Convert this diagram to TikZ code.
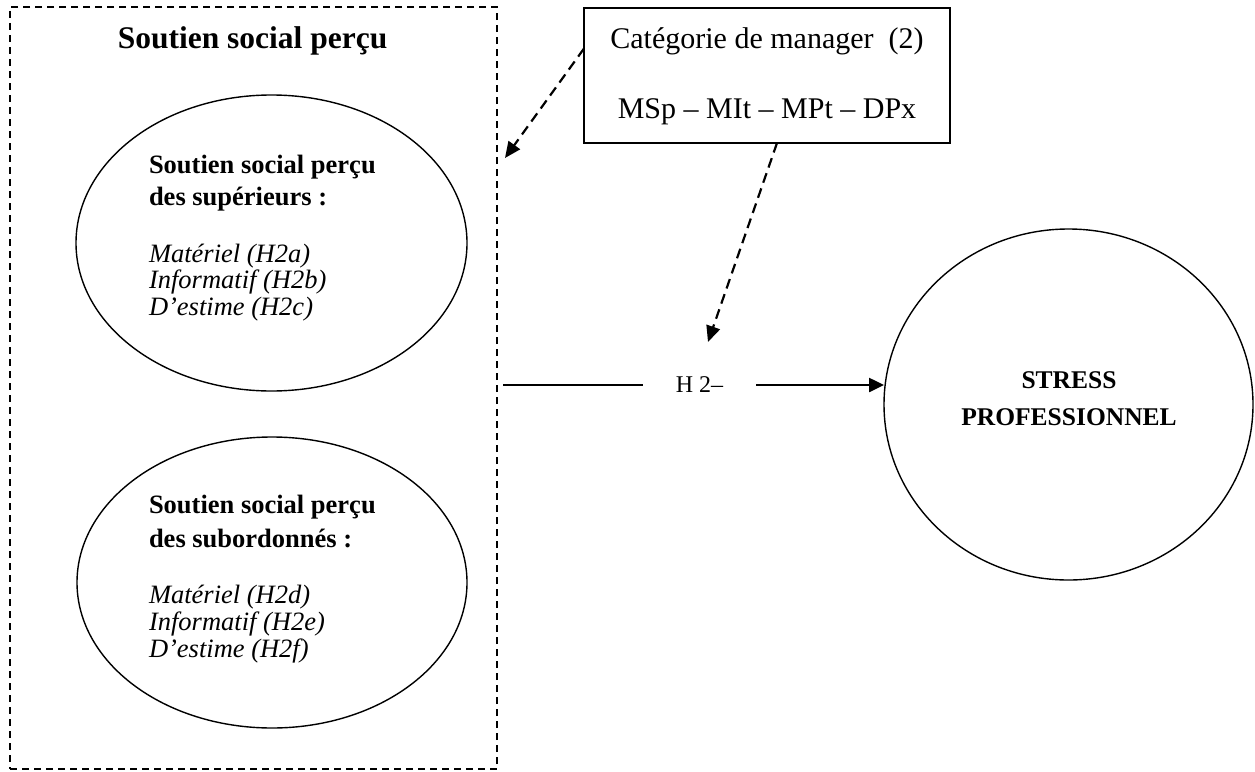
\documentclass[tikz,border=0pt]{standalone}
\usepackage{fontspec}
\setmainfont{Liberation Serif}
\usetikzlibrary{arrows.meta,shapes.geometric,calc}
\newcommand\setfs[1]{\fontsize{#1}{#1}\selectfont}
\begin{document}
\begin{tikzpicture}[x=1pt,y=-1pt,
  every node/.style={inner sep=0pt,outer sep=0pt},
  groupbox/.style={draw,line width=1.4pt,dash pattern=on 7pt off 5pt},
  oval/.style={draw,ellipse,line width=1.4pt},
  catbox/.style={draw,line width=1.6pt},
  line/.style={anchor=base west},
  hd/.style={line,font=\setfs{26.5}\bfseries},
  it/.style={line,font=\setfs{26.5}\itshape},
  modlink/.style={line width=2.2pt,dash pattern=on 10pt off 6pt,
    -{Triangle[length=16pt,width=14pt]}},
  mainlink/.style={line width=2.5pt},
  mainarrow/.style={mainlink,-{Triangle[length=15pt,width=14pt]}}]
\useasboundingbox (0,0) rectangle (1255,771);

% perceived social support group
\node[groupbox,minimum width=487,minimum height=762] (grp) at (253.5,388) {};
\node[anchor=base,font=\setfs{31.5}\bfseries] (title) at (252.5,48) {Soutien social perçu};

% support from superiors
\node[oval,minimum width=391,minimum height=296] (sup) at (271.5,243) {};
\node[hd] (sup1) at (149,173) {Soutien social perçu};
\node[hd] (sup2) at (149,205) {des supérieurs :};
\node[it] (sup3) at (149,262) {Matériel (H2a)};
\node[it] (sup4) at (149,288.5) {Informatif (H2b)};
\node[it] (sup5) at (149,315) {D’estime (H2c)};

% support from subordinates
\node[oval,minimum width=390,minimum height=291] (sub) at (272,582.5) {};
\node[hd] (sub1) at (149,513) {Soutien social perçu};
\node[hd] (sub2) at (149,547) {des subordonnés :};
\node[it] (sub3) at (149,603) {Matériel (H2d)};
\node[it] (sub4) at (149,630) {Informatif (H2e)};
\node[it] (sub5) at (149,657) {D’estime (H2f)};

% manager category (moderator)
\node[catbox,minimum width=366,minimum height=135] (cat) at (767,75.5) {};
\node[anchor=base,font=\setfs{30}] (cat1) at (767,48) {Catégorie de manager\ \ (2)};
\node[anchor=base,font=\setfs{30}] (cat2) at (767,118) {MSp – MIt – MPt – DPx};

% outcome
\node[draw,ellipse,line width=1.4pt,minimum width=369,minimum height=351] (stress) at (1068.5,404.5) {};
\node[anchor=base,font=\setfs{25.5}\bfseries] (st1) at (1069,388) {STRESS};
\node[anchor=base,font=\setfs{25.5}\bfseries] (st2) at (1069,425) {PROFESSIONNEL};

% main hypothesis link
\coordinate (hs) at (503,385);
\node[minimum width=113,minimum height=20,font=\setfs{24}] (h2) at (699.5,385) {H 2–};
\draw[mainlink] (hs) -- (h2.west);
\draw[mainarrow] (h2.east) -- (h2.east -| stress.west);

% moderating effects
\coordinate (t1) at (505,158);
\coordinate (t2) at (708,342);
\draw[modlink] ($(cat.north west)!0.3!(cat.south west)$) -- (t1);
\draw[modlink] ($(cat.south)+(10,0)$) -- (t2);
\end{tikzpicture}
\end{document}
